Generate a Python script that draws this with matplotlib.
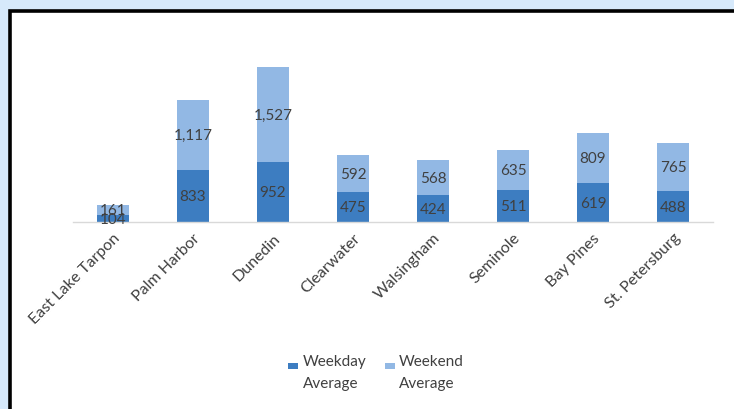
import matplotlib
matplotlib.use("Agg")
import matplotlib.pyplot as plt
from matplotlib.patches import Rectangle
from matplotlib.legend_handler import HandlerPatch
import numpy as np

branches = ["East Lake Tarpon", "Palm Harbor", "Dunedin", "Clearwater",
            "Walsingham", "Seminole", "Bay Pines", "St. Petersburg"]
weekday_avg = [104, 833, 952, 475, 424, 511, 619, 488]
weekend_avg = [161, 1117, 1527, 592, 568, 635, 809, 765]

WEEKDAY_COLOR = "#3d7dc1"
WEEKEND_COLOR = "#92b8e4"
TEXT_COLOR = "#404040"

plt.rcParams["font.family"] = ["Lato", "DejaVu Sans"]

fig = plt.figure(figsize=(7.34, 4.10), dpi=100)
fig.patch.set_facecolor("#d6e9fb")

# white panel with thick black frame (cropped at right and bottom)
frame = Rectangle((9.5 / 734, -0.2), 1.2, 1.2 - 11.5 / 410,
                  transform=fig.transFigure, facecolor="white",
                  edgecolor="black", linewidth=2.6, zorder=-1)
fig.patches.append(frame)

ax = fig.add_axes([73 / 734, 187 / 410, 640 / 734, 188 / 410])
ax.set_facecolor("none")
ax.set_zorder(2)

x = np.arange(len(branches))
wd = np.array(weekday_avg)
we = np.array(weekend_avg)

b1 = ax.bar(x, wd, width=0.4, color=WEEKDAY_COLOR, zorder=2)
b2 = ax.bar(x, we, width=0.4, bottom=wd, color=WEEKEND_COLOR, zorder=2)

for xi, v in zip(x, wd):
    ax.text(xi, v / 2, f"{v:,}", ha="center", va="center", fontsize=11,
            color=TEXT_COLOR, zorder=3)
for xi, b, v in zip(x, wd, we):
    ax.text(xi, b + v / 2, f"{v:,}", ha="center", va="center", fontsize=11,
            color=TEXT_COLOR, zorder=3)

ax.set_xlim(-0.5, len(branches) - 0.5)
ax.set_ylim(0, 3000)
ax.set_yticks([])
ax.set_xticks(x)
ax.set_xticklabels(branches, rotation=45, ha="right", rotation_mode="anchor",
                   fontsize=11.5, color=TEXT_COLOR)
ax.tick_params(axis="x", length=0, pad=6)
for s in ["top", "right", "left"]:
    ax.spines[s].set_visible(False)
ax.spines["bottom"].set_color("#d9d9d9")
ax.spines["bottom"].set_linewidth(1.0)

# legend squares sit level with the first line of each label
handler = HandlerPatch(ypad=0.85)
leg = fig.legend(handles=[b1.patches[0], b2.patches[0]],
                 labels=["Weekday\nAverage", "Weekend\nAverage"],
                 loc="center", bbox_to_anchor=(376 / 734, 1 - 373 / 410),
                 ncol=2, frameon=False, fontsize=11, labelcolor=TEXT_COLOR,
                 handlelength=0.65, handleheight=1.5, handletextpad=0.3, columnspacing=1.2,
                 handler_map={Rectangle: handler})
for t in leg.get_texts():
    t.set_linespacing(1.65)

fig.savefig("out.png", dpi=100, facecolor=fig.get_facecolor())
